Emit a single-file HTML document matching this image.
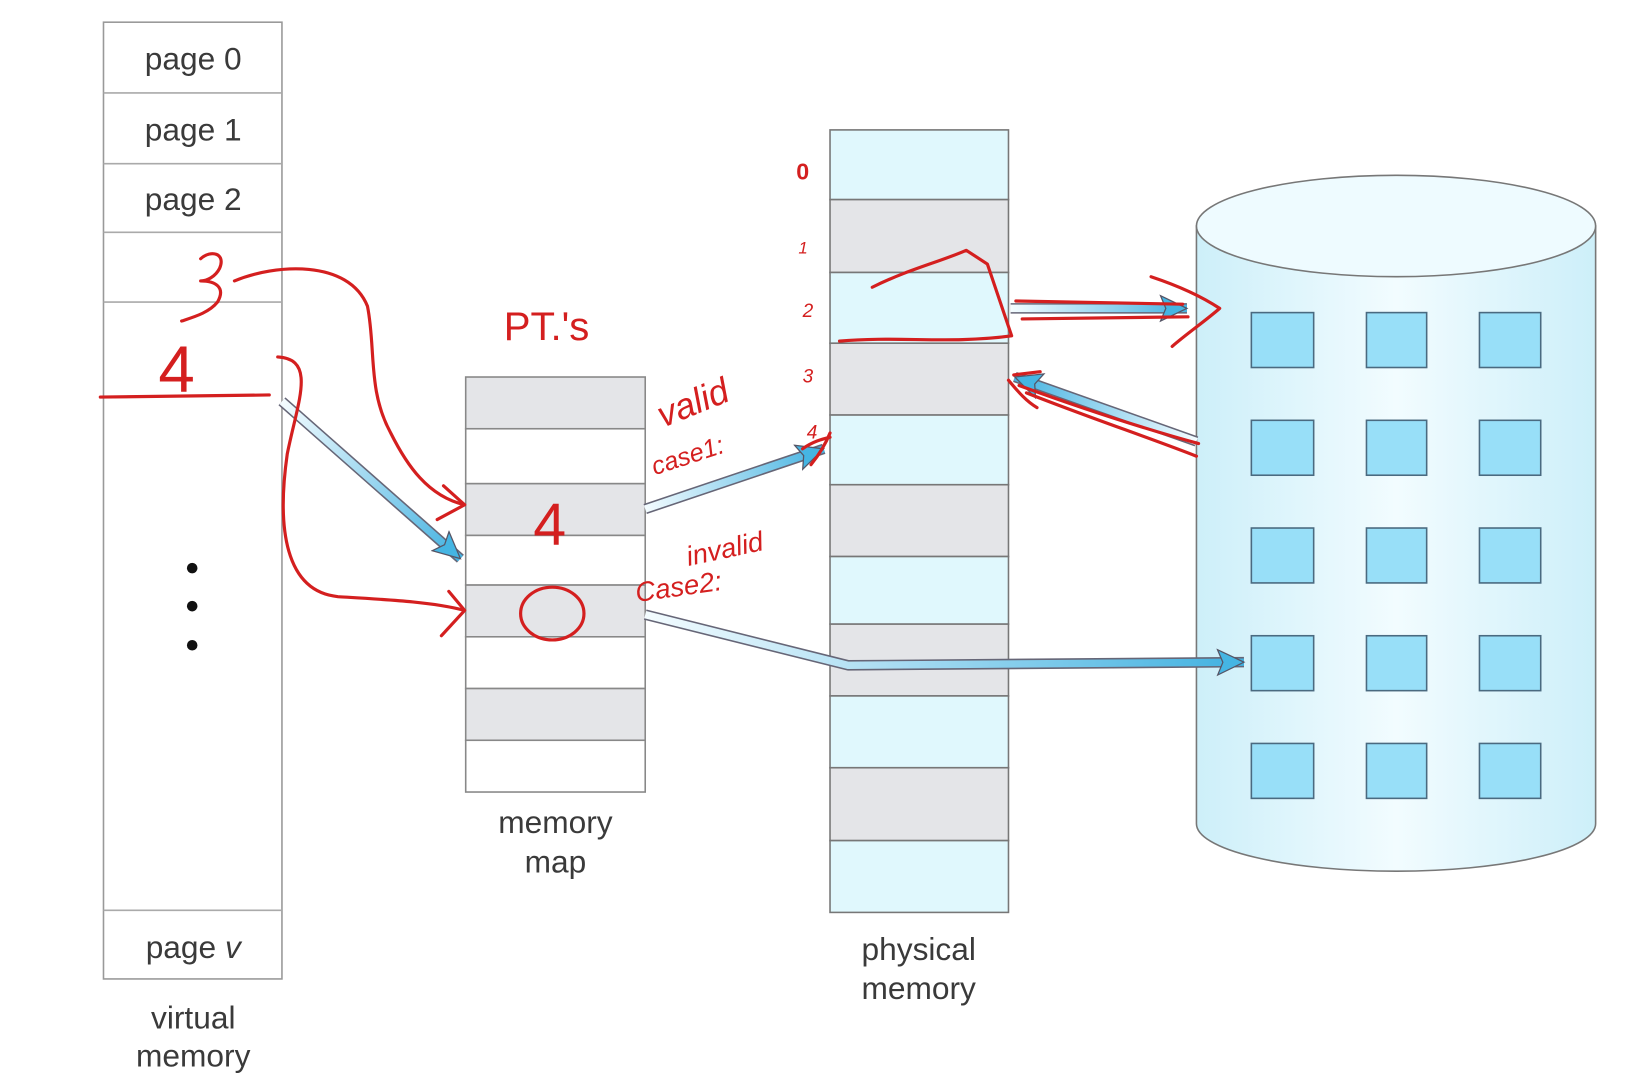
<!DOCTYPE html>
<html><head><meta charset="utf-8"><style>
html,body{margin:0;padding:0;background:#fff;width:1648px;height:1074px;overflow:hidden}
svg{display:block}
text{font-family:"Liberation Sans",sans-serif}
.lbl{font-size:30px;fill:#3a3a3a;text-anchor:middle}
.red{fill:none;stroke:#d41f1f;stroke-width:3;stroke-linecap:round;stroke-linejoin:round}
.rt{fill:#d41f1f;font-style:italic}
.rn{fill:#d41f1f;font-style:normal}
</style></head><body>
<svg width="1648" height="1074" viewBox="0 0 1560.6 1017" xmlns="http://www.w3.org/2000/svg">
<defs>
<marker id="ah" markerUnits="userSpaceOnUse" markerWidth="40" markerHeight="30" refX="26" refY="13" orient="auto">
<path d="M1,1 L26,13 L1,25 L6,13 Z" fill="#45b5e3" stroke="#556" stroke-width="1.2"/>
</marker>
<linearGradient id="cyl" x1="0" x2="1" y1="0" y2="0">
<stop offset="0" stop-color="#cdeff9"/><stop offset="0.5" stop-color="#f2fcff"/><stop offset="1" stop-color="#cdeff9"/>
</linearGradient>
<linearGradient id="gA" gradientUnits="userSpaceOnUse" x1="267" y1="380" x2="441" y2="533"><stop offset="0" stop-color="#f4fcff"/><stop offset="1" stop-color="#3fb0e0"/></linearGradient>
<linearGradient id="gB" gradientUnits="userSpaceOnUse" x1="611" y1="482" x2="786" y2="423"><stop offset="0" stop-color="#f4fcff"/><stop offset="1" stop-color="#3fb0e0"/></linearGradient>
<linearGradient id="gC" gradientUnits="userSpaceOnUse" x1="611" y1="582" x2="1184" y2="627"><stop offset="0" stop-color="#f4fcff"/><stop offset="1" stop-color="#3fb0e0"/></linearGradient>
<linearGradient id="gD" gradientUnits="userSpaceOnUse" x1="957" y1="292" x2="1130" y2="292"><stop offset="0" stop-color="#f4fcff"/><stop offset="1" stop-color="#3fb0e0"/></linearGradient>
<linearGradient id="gE" gradientUnits="userSpaceOnUse" x1="1133" y1="418" x2="955" y2="355"><stop offset="0" stop-color="#f4fcff"/><stop offset="1" stop-color="#3fb0e0"/></linearGradient>
</defs>

<!-- virtual memory -->
<rect x="98" y="21" width="169" height="906" fill="#fff" stroke="#999" stroke-width="1.5"/>
<g stroke="#aaa" stroke-width="1.5">
<line x1="98" y1="88" x2="267" y2="88"/><line x1="98" y1="155" x2="267" y2="155"/>
<line x1="98" y1="220" x2="267" y2="220"/><line x1="98" y1="286" x2="267" y2="286"/>
<line x1="98" y1="862" x2="267" y2="862"/>
</g>
<text class="lbl" x="183" y="66">page 0</text>
<text class="lbl" x="183" y="133">page 1</text>
<text class="lbl" x="183" y="199">page 2</text>
<text class="lbl" x="183" y="907">page <tspan font-style="italic">v</tspan></text>
<circle cx="182" cy="538" r="5" fill="#111"/><circle cx="182" cy="574" r="5" fill="#111"/><circle cx="182" cy="611" r="5" fill="#111"/>
<text class="lbl" x="183" y="974">virtual</text>
<text class="lbl" x="183" y="1010">memory</text>

<!-- memory map -->
<g stroke="#888" stroke-width="1.5">
<rect x="441" y="357" width="170" height="49" fill="#e4e5e8"/>
<rect x="441" y="406" width="170" height="52" fill="#fff"/>
<rect x="441" y="458" width="170" height="49" fill="#e4e5e8"/>
<rect x="441" y="507" width="170" height="47" fill="#fff"/>
<rect x="441" y="554" width="170" height="49" fill="#e4e5e8"/>
<rect x="441" y="603" width="170" height="49" fill="#fff"/>
<rect x="441" y="652" width="170" height="49" fill="#e4e5e8"/>
<rect x="441" y="701" width="170" height="49" fill="#fff"/>
</g>
<text class="lbl" x="526" y="789">memory</text>
<text class="lbl" x="526" y="826">map</text>

<!-- physical memory -->
<g stroke="#777" stroke-width="1.5">
<rect x="786" y="123" width="169" height="66" fill="#e0f8fd"/>
<rect x="786" y="189" width="169" height="69" fill="#e4e5e8"/>
<rect x="786" y="258" width="169" height="67" fill="#e0f8fd"/>
<rect x="786" y="325" width="169" height="68" fill="#e4e5e8"/>
<rect x="786" y="393" width="169" height="66" fill="#e0f8fd"/>
<rect x="786" y="459" width="169" height="68" fill="#e4e5e8"/>
<rect x="786" y="527" width="169" height="64" fill="#e0f8fd"/>
<rect x="786" y="591" width="169" height="68" fill="#e4e5e8"/>
<rect x="786" y="659" width="169" height="68" fill="#e0f8fd"/>
<rect x="786" y="727" width="169" height="69" fill="#e4e5e8"/>
<rect x="786" y="796" width="169" height="68" fill="#e0f8fd"/>
</g>
<text class="lbl" x="870" y="909">physical</text>
<text class="lbl" x="870" y="946">memory</text>

<!-- disk -->
<path d="M1133,214 L1133,780 A189,45 0 0 0 1511,780 L1511,214 Z" fill="url(#cyl)" stroke="#777" stroke-width="1.5"/>
<ellipse cx="1322" cy="214" rx="189" ry="48" fill="#eefbff" stroke="#777" stroke-width="1.5"/>
<g fill="#98dff8" stroke="#4a6a80" stroke-width="1.5">
<rect x="1185" y="296" width="59" height="52"/><rect x="1294" y="296" width="57" height="52"/><rect x="1401" y="296" width="58" height="52"/>
<rect x="1185" y="398" width="59" height="52"/><rect x="1294" y="398" width="57" height="52"/><rect x="1401" y="398" width="58" height="52"/>
<rect x="1185" y="500" width="59" height="52"/><rect x="1294" y="500" width="57" height="52"/><rect x="1401" y="500" width="58" height="52"/>
<rect x="1185" y="602" width="59" height="52"/><rect x="1294" y="602" width="57" height="52"/><rect x="1401" y="602" width="58" height="52"/>
<rect x="1185" y="704" width="59" height="52"/><rect x="1294" y="704" width="57" height="52"/><rect x="1401" y="704" width="58" height="52"/>
</g>

<!-- arrows -->
<g fill="none" stroke-linejoin="round">
<line x1="267" y1="380" x2="436" y2="529" stroke="#667" stroke-width="10"/>
<line x1="267" y1="380" x2="436" y2="529" stroke="url(#gA)" stroke-width="7" marker-end="url(#ah)"/>
<line x1="611" y1="482" x2="780" y2="425" stroke="#667" stroke-width="10"/>
<line x1="611" y1="482" x2="780" y2="425" stroke="url(#gB)" stroke-width="7" marker-end="url(#ah)"/>
<polyline points="611,582 803,630 1178,627" stroke="#667" stroke-width="10"/>
<polyline points="611,582 803,630 1178,627" stroke="url(#gC)" stroke-width="7" marker-end="url(#ah)"/>
<line x1="957" y1="292" x2="1124" y2="292" stroke="#667" stroke-width="10"/>
<line x1="957" y1="292" x2="1124" y2="292" stroke="url(#gD)" stroke-width="7" marker-end="url(#ah)"/>
<line x1="1133" y1="418" x2="961" y2="357" stroke="#667" stroke-width="10"/>
<line x1="1133" y1="418" x2="961" y2="357" stroke="url(#gE)" stroke-width="7" marker-end="url(#ah)"/>
</g>

<!-- red annotations -->
<path class="red" d="M190,245 C200,236 214,240 208,254 C204,262 196,266 190,266 C204,266 214,272 206,286 C198,296 184,300 172,304"/>
<path class="red" d="M222,266 C260,250 330,245 348,290 C356,330 348,370 370,410 C385,440 405,470 440,478"/>
<path class="red" d="M420,460 L440,478 L414,492"/>
<path class="red" d="M95,376 L255,374"/>
<text class="rn" x="150" y="371" font-size="62">4</text>
<path class="red" d="M263,338 C300,340 282,380 272,430 C262,500 270,560 320,565 C370,568 410,570 440,578"/>
<path class="red" d="M425,560 L440,578 L418,602"/>
<text class="rn" x="477" y="322" font-size="38">PT.'s</text>
<text class="rn" x="505" y="516" font-size="56">4</text>
<ellipse class="red" cx="523" cy="581" rx="30" ry="25"/>
<text class="rt" x="628" y="405" font-size="34" transform="rotate(-22 628 405)">valid</text>
<text class="rt" x="620" y="450" font-size="24" transform="rotate(-18 620 450)">case1:</text>
<text class="rt" x="652" y="536" font-size="26" transform="rotate(-12 652 536)">invalid</text>
<text class="rt" x="603" y="570" font-size="26" transform="rotate(-8 603 570)">Case2:</text>
<text class="rn" x="754" y="170" font-size="22" font-weight="bold">0</text>
<text class="rt" x="756" y="240" font-size="16">1</text>
<text class="rt" x="760" y="300" font-size="18">2</text>
<text class="rt" x="760" y="362" font-size="18">3</text>
<text class="rt" x="764" y="415" font-size="18">4</text>
<path class="red" d="M826,272 C860,255 890,248 915,237 L935,250 L958,318 C900,326 850,318 795,323" stroke-width="2"/>
<path class="red" d="M962,285 L1120,288 M968,302 L1125,300 M1090,262 C1120,272 1140,282 1155,292 C1140,305 1125,315 1110,328" stroke-width="2"/>
<path class="red" d="M960,355 L985,352 M965,365 C1020,385 1080,405 1135,420 M972,372 C1030,395 1090,415 1133,432 M955,360 C965,372 972,380 982,386" stroke-width="2"/>
<path class="red" d="M760,425 C770,418 778,416 786,414 M768,440 C776,430 782,420 786,410" stroke-width="2"/>
</svg>
</body></html>
